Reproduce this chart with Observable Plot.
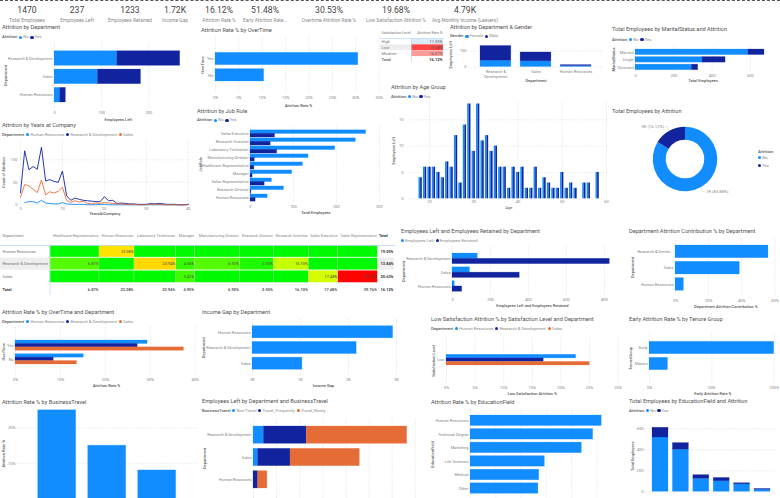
<!DOCTYPE html>
<html><head><meta charset="utf-8">
<style>
html,body{margin:0;padding:0;background:#fff;overflow:hidden;width:780px;height:498px}
#root{position:relative;width:780px;height:498px;overflow:hidden;font-family:Roboto,sans-serif}
.t{position:absolute;white-space:nowrap;transform:translateY(-50%);line-height:1}
.lg{position:absolute;display:flex;align-items:center;gap:1px;white-space:nowrap;transform:translateY(-50%);font-size:4.2px;color:#8a8a8a;line-height:1}
.lg b{color:#555;font-weight:500;margin-right:0.8px}
.lg i{display:inline-block;width:3.2px;height:3.2px;border-radius:50%}
.lg span{margin-right:0.8px}
</style>
<script src="https://cdn.jsdelivr.net/npm/d3@7"></script>
<script src="https://cdn.jsdelivr.net/npm/@observablehq/plot@0.6"></script>
</head><body><div id="root"></div>
<script>
// ---- data ----
const kpiValues = ["1470","237","1233","1.72K","16.12%","51.48%","30.53%","19.68%","4.79K"];
const kpiLabels = ["Total Employees","Employees Left","Employees Retained","Income Gap","Attrition Rate %","Early Attrition Rate...","Overtime Attrition Rate %","Low Satisfaction Attrition %","Avg Monthly Income (Leavers)"];
const departments = ["Research & Development","Sales","Human Resources"];
const deptNo = [133,92,12];
const deptYes = [133,91,12];
const overTime = ["Yes","No"];
const overTimeRate = [30.53,10.4];
const satLevels = ["High","Low","Medium"];
const satRates = [11.33,19.68,16.67];
const genderFemale = [40,36,6];
const genderMale = [93,56,6];
const marital = ["Married","Single","Divorced"];
const maritalNo = [589,350,294];
const maritalYes = [84,120,33];
const years = d3.range(0,41);
const yearsRD = [27,120,78,85,79,128,53,56,52,50,75,20,10,15,12,10,9,8,7,7,18,9,10,3,4,3,2,2,1,1,1,3,2,3,2,1,1,1,0,0,1];
const yearsSales = [17,45,42,35,27,55,22,29,26,30,39,10,5,9,6,8,3,2,4,3,5,4,3,2,2,1,1,1,0,0,0,1,1,1,0,0,0,0,0,0,0];
const yearsHR = [null,5,7,7,4,10,4,3,2,2,5,2,1,1,1,1,0,0,0,1,1,0,0,0,0,0,0,0,0,0,0,0,0,0,0,0,0,0,0,0,1];
const jobRoles = ["Sales Executive","Research Scientist","Laboratory Technician","Manufacturing Director","Healthcare Representative","Manager","Sales Representative","Research Director","Human Resources"];
const jobNo = [269,245,197,135,122,97,50,78,40];
const jobYes = [57,47,62,10,9,5,33,2,12];
const ages = d3.range(18,59);
const ageLeft = [4,6,6,6,5,4,7,6,12,3,14,18,9,18,11,12,9,10,6,6,2,6,5,6,2,2,6,2,4,3,2,2,5,2,3,2,0,3,3,0,5];
const attritionShare = [83.88,16.12];
const attritionLabels = ["1K (83.88%)","0K (16.12%)"];
const heatColumns = ["Healthcare Representative","Human Resources","Laboratory Technician","Manager","Manufacturing Director","Research Director","Research Scientist","Sales Executive","Sales Representative"];
const heatHR = [null,23.08,null,null,null,null,null,null,null];
const heatRD = [6.87,null,23.94,4.56,6.90,2.50,16.10,null,null];
const heatSales = [null,null,null,5.41,null,null,null,17.48,39.76];
const heatRowTotals = ["19.05%","13.84%","20.63%"];
const heatColTotals = ["6.87%","23.08%","23.94%","4.90%","6.90%","2.50%","16.10%","17.48%","39.76%"];
const retained = [828,354,51];
const contribution = [56.12,38.82,5.06];
const otHR = [29.4,15.2];
const otRD = [27.2,8.5];
const otSales = [37.5,13.7];
const incomeDepts = ["Human Resources","Research & Development","Sales"];
const incomeGap = [2930,2170,1040];
const lowSatHR = [22.67];
const lowSatRD = [17];
const lowSatSales = [25.05];
const tenure = ["Early","Mature"];
const tenureRate = [100,14.8];
const travelKinds = ["Travel_Frequently","Travel_Rarely","Non-Travel"];
const travelRate = [24.94,14.96,8.0];
const leftNonTravel = [9,4,0];
const leftFrequently = [37,28,4];
const leftRarely = [87,60,8];
const eduFields = ["Human Resources","Technical Degree","Marketing","Life Sciences","Medical","Other"];
const eduRate = [25.93,24.24,22.0,14.69,13.58,13.41];
const eduShort = ["Life","Medical","Marketing","Technical","Other","Human"];
const eduNo = [517,401,124,100,71,20];
const eduYes = [93,63,35,32,11,7];

// ---- style ----
const BLUE="#118DFF", NAVY="#12239E", ORANGE="#E66C37";
const TICK="#858585", FS=4, FONT='Roboto,sans-serif';
const halo={strokeWidth:0.7,strokeOpacity:0.3};
const root=document.getElementById("root");
function txt(s,x,y,size,color,weight,align){
  const d=document.createElement("div");d.className="t";d.textContent=s;
  d.style.left=x+"px";d.style.top=y+"px";d.style.fontSize=size+"px";d.style.color=color;
  if(weight)d.style.fontWeight=weight;
  if(align==="center"){d.style.transform="translate(-50%,-50%)";}
  root.appendChild(d);
}
function legend(x,y,label,items){
  const d=document.createElement("div");d.className="lg";d.style.left=x+"px";d.style.top=y+"px";
  d.innerHTML=(label?`<b>${label}</b>`:"")+items.map(([n,c])=>`<i style="background:${c}"></i><span>${n}</span>`).join("");
  root.appendChild(d);
}
const dom=(lo,hi,v0,p0,v1,p1)=>{const k=(v1-v0)/(p1-p0);return [v0+(lo-p0)*k,v0+(hi-p0)*k];};
function panel(f,o){
  const ml=70,mr=16,mt=16,mb=24;
  const svg=Plot.plot({
    width:f.r-f.l+ml+mr,height:f.b-f.t+mt+mb,
    marginLeft:ml,marginRight:mr,marginTop:mt,marginBottom:mb,
    style:{background:"transparent",overflow:"visible",maxWidth:"none",fontFamily:FONT,fontSize:FS+"px",position:"absolute",left:(f.l-ml)+"px",top:(f.t-mt)+"px"},
    x:o.x&&{axis:null,...o.x},y:o.y&&{axis:null,...o.y},color:o.color,marks:o.marks
  });
  root.appendChild(svg);
}
// band scale whose first band starts at pixel `top` and last ends at pixel `bottom`
function band(f,domain,top,bottom,gap,vertical){
  const n=domain.length,bw=(bottom-top-(n-1)*gap)/n;
  const ref=vertical?f.l-70:f.t-16;
  return {type:"band",domain,range:[top-ref,bottom-ref],paddingInner:gap/(bw+gap),paddingOuter:0,round:false,align:0.5};
}
const grid=(fn,ticks)=>fn(ticks,{stroke:"#c8c8c8",strokeOpacity:1,strokeWidth:0.5,strokeDasharray:"1,1.4"});
const xTicks=(t,fmt,pad=3)=>Plot.axisX(t,{tickSize:0,tickPadding:pad,fontSize:FS,color:TICK,label:null,tickFormat:fmt,anchor:"bottom"});
const yTicks=(t,fmt,pad=2)=>Plot.axisY(t,{tickSize:0,tickPadding:pad,fontSize:FS,color:TICK,label:null,tickFormat:fmt,anchor:"left"});
const xBandAxis=(fmt,pad=3)=>Plot.axisX({tickSize:0,tickPadding:pad,fontSize:FS,color:TICK,label:null,tickFormat:fmt,anchor:"bottom",lineHeight:1.15});
const yBandAxis=(pad=2)=>Plot.axisY({tickSize:0,tickPadding:pad,fontSize:FS,color:TICK,label:null,anchor:"left"});
const xTitle=(s,dy,w=500)=>Plot.text([s],{text:d=>d,frameAnchor:"bottom",lineAnchor:"middle",textAnchor:"middle",dy,fontSize:4,fill:"#555",fontWeight:w});
const yTitle=(s,dx)=>Plot.text([s],{text:d=>d,frameAnchor:"left",textAnchor:"middle",lineAnchor:"middle",rotate:-90,dx,fontSize:4,fill:"#555",fontWeight:500});
const pct=d=>d+"%";
const long=(names,...series)=>series.flatMap(([k,vals])=>vals.map((v,i)=>({c:names[i],s:k,v})));
const ynColor={domain:["No","Yes"],range:[BLUE,NAVY]};

// ---- header ----
const topLine=document.createElement("div");
topLine.style.cssText="position:absolute;left:0;top:0;width:780px;height:0;border-top:1px dashed #555";
root.appendChild(topLine);
const kpiX=[27,77,130,175,219,265,329,396,465];
kpiValues.forEach((v,i)=>txt(v,kpiX[i],10,8.6,"#444",400,"center"));
kpiLabels.forEach((v,i)=>txt(v,kpiX[i],20,4.9,"#8a8a8a",400,"center"));

const titles=[
["Attrition by Department",2,28],["Attrition Rate % by OverTime",201,31],["Attrition by Department & Gender",450,28],
["Total Employees by MaritalStatus and Attrition",612,30],["Attrition by Years at Company",2,126],["Attrition by Job Role",197,112],
["Attrition by Age Group",391,88],["Total Employees by Attrition",612,112],
["Employees Left and Employees Retained by Department",401,232],["Department Attrition Contribution % by Department",629,232],
["Attrition Rate % by OverTime and Department",2,313],["Income Gap by Department",202,313],
["Low Satisfaction Attrition % by Satisfaction Level and Department",431,320],["Early Attrition Rate % by Tenure Group",629,320],
["Attrition Rate % by BusinessTravel",2,403],["Employees Left by Department and BusinessTravel",202,402],
["Attrition Rate % by EducationField",431,403],["Total Employees by EducationField and Attrition",629,402]];
titles.forEach(([s,x,y])=>txt(s,x,y,5.6,"#505050",400));
const yn=[["No",BLUE],["Yes",NAVY]];
const dp=[["Human Resources",BLUE],["Research & Development",NAVY],["Sales",ORANGE]];
legend(2,37,"Attrition",yn);legend(450,36,"Gender",[["Female",BLUE],["Male",NAVY]]);
legend(612,39.5,"Attrition",yn);legend(2,134.5,"Department",dp);legend(197,120,"Attrition",yn);
legend(391,96.5,"Attrition",yn);legend(401,240.5,"",[["Employees Left",BLUE],["Employees Retained",NAVY]]);
legend(2,321.5,"Department",dp);legend(431,328.7,"Department",dp);
legend(202,410.7,"BusinessTravel",[["Non-Travel",BLUE],["Travel_Frequently",NAVY],["Travel_Rarely",ORANGE]]);
legend(629,410.7,"Attrition",yn);

// ---- Attrition by Department ----
{const f={l:53.5,r:181,t:42,b:108};
panel(f,{x:{domain:dom(f.l,f.r,0,53.5,200,148)},y:band(f,departments,50.7,102,3.7),color:ynColor,marks:[
 grid(Plot.gridX,[0,100,200]),Plot.barX(long(departments,["No",deptNo],["Yes",deptYes]),{x:"v",y:"c",fill:"s",stroke:"s",...halo}),
 xTicks([0,100,200]),yBandAxis(),xTitle("Employees Left",11),yTitle("Department",-49)]});}
// ---- Rate by OverTime ----
{const f={l:215,r:381,t:36,b:93};const t=[0,5,10,15,20,25,30,35];
panel(f,{x:{domain:dom(f.l,f.r,0,215,30,355.3)},y:band(f,overTime,52.3,81,4),marks:[
 grid(Plot.gridX,t),Plot.barX(overTime.map((c,i)=>({c,v:overTimeRate[i]})),{x:"v",y:"c",fill:BLUE,stroke:BLUE,...halo}),
 xTicks(t,pct),yBandAxis(),xTitle("Attrition Rate %",12),yTitle("OverTime",-13)]});}
// ---- Satisfaction table ----
{const f={l:380,r:443,t:37.5,b:61.5};const rows=[...satLevels,"Total"];
const cells=satLevels.map((c,i)=>({c,v:satRates[i]}));
panel(f,{x:{domain:[0,63]},y:band(f,rows,37.9,61.5,0.2),color:{type:"linear",domain:[11.33,16.67,19.68],range:["#dcebfb","#ff9a9a","#ff4444"]},marks:[
 Plot.barX([{a:0,b:31,c:"Low"}],{x1:"a",x2:"b",y:"c",fill:"#eeeeee"}),
 Plot.barX(cells,{x1:()=>31,x2:()=>63,y:"c",fill:"v"}),
 Plot.frame({anchor:"top",stroke:"#b9d8f6",strokeWidth:0.7}),Plot.ruleX([31],{stroke:"#b9d8f6",strokeWidth:0.6}),
 Plot.text(cells,{x:()=>62,y:"c",text:d=>d.v.toFixed(2)+"%",textAnchor:"end",fontSize:4,fill:"#555"}),
 Plot.text(rows,{x:()=>1,y:d=>d,text:d=>d,textAnchor:"start",fontSize:4.2,fill:d=>d==="Total"?"#222":"#777",fontWeight:d=>d==="Total"?700:400}),
 Plot.text(["16.12%"],{x:()=>62,y:()=>"Total",text:d=>d,textAnchor:"end",fontSize:4,fill:"#333",fontWeight:700}),
 Plot.text(["Satisfaction Level"],{x:()=>1,frameAnchor:"top",dy:-5.2,text:d=>d,textAnchor:"start",lineAnchor:"middle",fontSize:3.7,fill:"#777"}),
 Plot.text(["Attrition Rate %"],{x:()=>62,frameAnchor:"top",dy:-5.2,text:d=>d,textAnchor:"end",lineAnchor:"middle",fontSize:3.7,fill:"#777"})]});}
// ---- Gender ----
{const f={l:468,r:603,t:42,b:66.5};const wrap=d=>d==="Research & Development"?"Research &\nDevelopment":d;
panel(f,{x:band(f,departments,480,591,9.3,true),y:{domain:dom(f.b,f.t,0,66.5,100,50.7)},color:{domain:["Female","Male"],range:[BLUE,NAVY]},marks:[
 grid(Plot.gridY,[0,100]),Plot.barY(long(departments,["Female",genderFemale],["Male",genderMale]),{x:"c",y:"v",fill:"s",stroke:"s",...halo}),
 yTicks([0,100]),xBandAxis(wrap,3),xTitle("Department",13.5),yTitle("Employees Left",-18)]});}
// ---- Marital ----
{const f={l:635,r:770,t:46,b:72};const t=[0,200,400,600];
panel(f,{x:{domain:dom(f.l,f.r,0,635,600,750)},y:band(f,marital,49,69.7,2),color:ynColor,marks:[
 grid(Plot.gridX,t),Plot.barX(long(marital,["No",maritalNo],["Yes",maritalYes]),{x:"v",y:"c",fill:"s",stroke:"s",...halo}),
 xTicks(t,null,2),yBandAxis(),xTitle("Total Employees",8.5),yTitle("MaritalStatus",-22)]});}
// ---- Years ----
{const f={l:20,r:189,t:140,b:204.3};const t=[0,10,20,30,40];
const ln=(arr,c)=>Plot.line(years.map((y,i)=>({y,v:arr[i]})).filter(d=>d.v!=null),{x:"y",y:"v",stroke:c,strokeWidth:0.9,curve:"linear"});
panel(f,{x:{domain:dom(f.l,f.r,0,20,40,187.7)},y:{domain:dom(f.b,f.t,0,204.3,100,159.3)},marks:[
 grid(Plot.gridX,t),grid(Plot.gridY,[0,50,100]),ln(yearsHR,BLUE),ln(yearsRD,NAVY),ln(yearsSales,ORANGE),
 xTicks(t,null,2.5),yTicks([0,50,100],null,3),xTitle("YearsAtCompany",9),yTitle("Count of Attrition",-17)]});}
// ---- Job role ----
{const f={l:250.3,r:381,t:126,b:202};const t=[0,100,200,300];
const h=3.4;
panel(f,{x:{domain:dom(f.l,f.r,0,250.3,300,379.3)},y:band(f,jobRoles,129.8,201.2,0.8),marks:[
 grid(Plot.gridX,t),
 Plot.barX(jobRoles.map((c,i)=>({c,v:jobNo[i]})),{x:"v",y:"c",fill:BLUE,stroke:BLUE,...halo,insetBottom:h+0.1}),
 Plot.barX(jobRoles.map((c,i)=>({c,v:jobYes[i]})),{x:"v",y:"c",fill:NAVY,stroke:NAVY,...halo,insetTop:h+0.1}),
 xTicks(t,null,2.5),yBandAxis(),xTitle("Total Employees",10.5),yTitle("JobRole",-50)]});}
// ---- Age ----
{const f={l:409,r:608,t:102,b:198.3};const t=[20,30,40,50,60];
const half=0.37;
panel(f,{x:{domain:dom(f.l,f.r,20,429,60,606)},y:{domain:dom(f.b,f.t,0,198.3,15,119.3)},marks:[
 grid(Plot.gridX,t),grid(Plot.gridY,[0,5,10,15]),
 Plot.rectY(ages.map((a,i)=>({a,v:ageLeft[i]})),{x1:d=>d.a-half,x2:d=>d.a,y1:()=>0,y2:"v",fill:BLUE}),
 Plot.rectY(ages.map((a,i)=>({a,v:ageLeft[i]})),{x1:d=>d.a,x2:d=>d.a+half,y1:()=>0,y2:"v",fill:NAVY}),
 xTicks(t,null,1.5),yTicks([0,5,10,15],null,6),xTitle("Age",9.2,400),yTitle("Employees Left",-16)]});}
// ---- Donut ----
{const f={l:640,r:730,t:120,b:198};
const donut=()=>{
  const cx=(f.r-f.l)/2+70,cy=(f.b-f.t)/2+16,R=32.3,r=19.3;
  const g=d3.create("svg:g").attr("transform",`translate(${cx},${cy})`);
  const arcs=d3.pie().sort(null)(attritionShare);
  const arc=d3.arc().innerRadius(r).outerRadius(R);
  g.selectAll("path").data(arcs).join("path").attr("d",arc).attr("fill",(d,i)=>[BLUE,NAVY][i]);
  arcs.forEach((a,i)=>{
    const m=(a.startAngle+a.endAngle)/2,sx=Math.sin(m),cyy=-Math.cos(m);
    const p1=[sx*(R+0.6),cyy*(R+0.6)],p2=[sx*(R+5),cyy*(R+5)];
    const dir=sx>0?1:-1;const p3=[p2[0]+dir*2,p2[1]];
    g.append("polyline").attr("points",[p1,p2,p3].map(p=>p.join(",")).join(" ")).attr("fill","none").attr("stroke","#bbb").attr("stroke-width",0.4);
    g.append("text").attr("x",p3[0]+dir*1).attr("y",p3[1]).attr("dy","0.32em").attr("text-anchor",dir>0?"start":"end").attr("font-size",4.2).attr("fill","#888").text(attritionLabels[i]);
  });
  return g.node();
};
panel(f,{marks:[donut]});
txt("Attrition",758,151.5,4.2,"#555",500);
[["No",BLUE,157.5],["Yes",NAVY,165.5]].forEach(([n,c,y])=>{
  const d=document.createElement("div");d.className="lg";d.style.left="758px";d.style.top=y+"px";
  d.innerHTML=`<i style="background:${c}"></i><span>${n}</span>`;root.appendChild(d);});}
// ---- Heatmap ----
{const colW=[49.7,49.3,35,41.7,19,44.6,34,35,29.4,39.6,16.7];
const edges=d3.cumsum([0,...colW]);
const f={l:0,r:394,t:245,b:295};
const rowNames=["Human Resources","Research & Development","Sales"];
const mats=[heatHR,heatRD,heatSales];
const cells=mats.flatMap((m,r)=>m.map((v,i)=>({row:rowNames[r],v,a:edges[i+1],b:edges[i+2]})));
const allRows=["hdr",...rowNames,"Total"];
panel(f,{x:{domain:[0,394]},y:band(f,allRows,232.3,295,0.7),color:{type:"linear",domain:[0,21,40],range:["#00fa00","#ffff00","#ff0000"]},marks:[
 Plot.barX([{a:0,b:49.7,row:rowNames[1]},{a:377.3,b:394,row:rowNames[1]}],{x1:"a",x2:"b",y:"row",fill:"#eeeeee"}),
 Plot.barX(cells,{x1:"a",x2:"b",y:"row",fill:d=>d.v??0,stroke:"#fff",strokeOpacity:0.45,strokeWidth:0.4}),
 Plot.frame({anchor:"top",stroke:"#b9d8f6",strokeWidth:0.8}),Plot.ruleX([49.5],{stroke:"#b9d8f6",strokeWidth:0.7}),
 Plot.text(cells.filter(d=>d.v!=null),{x:d=>d.b-1,y:"row",text:d=>d.v.toFixed(2)+"%",textAnchor:"end",fontSize:3.9,fill:"#444"}),
 Plot.text(rowNames,{x:()=>2,y:d=>d,text:d=>d,textAnchor:"start",fontSize:4.1,fill:"#777"}),
 Plot.text(["Department"],{x:()=>2,y:()=>"hdr",dy:-2.6,text:d=>d,textAnchor:"start",fontSize:4,fill:"#777"}),
 Plot.text(heatColumns,{x:(d,i)=>edges[i+2]-1,y:()=>"hdr",dy:-2.6,text:d=>d,textAnchor:"end",fontSize:3.9,fill:"#888"}),
 Plot.text(["Total"],{x:()=>378.5,y:()=>"hdr",dy:-2.6,text:d=>d,textAnchor:"start",fontSize:3.9,fill:"#333",fontWeight:700}),
 Plot.text(["Total"],{x:()=>2,y:()=>"Total",text:d=>d,textAnchor:"start",fontSize:4,fill:"#333",fontWeight:700}),
 Plot.text(heatColTotals,{x:(d,i)=>edges[i+2]-1,y:()=>"Total",text:d=>d,textAnchor:"end",fontSize:3.9,fill:"#555",fontWeight:700}),
 Plot.text(heatRowTotals,{x:()=>393,y:(d,i)=>rowNames[i],text:d=>d,textAnchor:"end",fontSize:3.9,fill:"#333",fontWeight:700}),
 Plot.text(["16.12%"],{x:()=>393,y:()=>"Total",text:d=>d,textAnchor:"end",fontSize:3.9,fill:"#333",fontWeight:700})]});}
// ---- Left & Retained ----
{const f={l:452.3,r:612,t:246,b:296};const t=[0,200,400,600,800];const h=5.3;
panel(f,{x:{domain:dom(f.l,f.r,0,452.3,800,604.3)},y:band(f,departments,253,291.3,3.2),marks:[
 grid(Plot.gridX,t),
 Plot.barX(departments.map((c,i)=>({c,v:deptNo[i]})),{x:"v",y:"c",fill:BLUE,stroke:BLUE,...halo,insetBottom:h}),
 Plot.barX(departments.map((c,i)=>({c,v:retained[i]})),{x:"v",y:"c",fill:NAVY,stroke:NAVY,...halo,insetTop:h}),
 xTicks(t,null,2),yBandAxis(),xTitle("Employees Left and Employees Retained",9.5),yTitle("Department",-49)]});}
// ---- Contribution ----
{const f={l:675.3,r:776,t:238,b:296};const t=[0,20,40,60];
panel(f,{x:{domain:dom(f.l,f.r,0,675.3,60,774.7)},y:band(f,departments,245,290.3,3.6),marks:[
 grid(Plot.gridX,t),Plot.barX(departments.map((c,i)=>({c,v:contribution[i]})),{x:"v",y:"c",fill:BLUE,stroke:BLUE,...halo}),
 xTicks(t,pct,2.5),Plot.axisY({tickSize:0,tickPadding:2,fontSize:FS,color:TICK,label:null,anchor:"left",tickFormat:d=>d==="Research & Development"?"Research & Develo...":d}),
 xTitle("Department Attrition Contribution %",10.5),yTitle("Department",-43)]});}
// ---- OT & Dept ----
{const f={l:15,r:197,t:327,b:375.5};const t=[0,10,20,30,40];const bh=3.4;
const s=(arr,c,a,b)=>Plot.barX(overTime.map((k,i)=>({k,v:arr[i]})),{x:"v",y:"k",fill:c,stroke:c,...halo,insetTop:a,insetBottom:b});
panel(f,{x:{domain:dom(f.l,f.r,0,15,40,194.7)},y:band(f,overTime,340,364,3.4),marks:[
 grid(Plot.gridX,t),s(otHR,BLUE,0,2*bh),s(otRD,NAVY,bh,bh),s(otSales,ORANGE,2*bh,0),
 xTicks(t,pct,2),Plot.axisY({tickSize:0,tickPadding:2,fontSize:3.8,color:TICK,label:null,anchor:"left"}),xTitle("Attrition Rate %",9.5),yTitle("OverTime",-12)]});}
// ---- Income gap ----
{const f={l:252.3,r:394,t:319,b:375.5};const t=[0,1000,2000,3000];
panel(f,{x:{domain:dom(f.l,f.r,0,252.3,2000,348.3)},y:band(f,incomeDepts,325.7,369.3,3.6),marks:[
 grid(Plot.gridX,t),Plot.barX(incomeDepts.map((c,i)=>({c,v:incomeGap[i]})),{x:"v",y:"c",fill:BLUE,stroke:BLUE,...halo}),
 xTicks(t,d=>d/1000+"K",2),yBandAxis(),xTitle("Income Gap",9.5),yTitle("Department",-49)]});}
// ---- Low satisfaction ----
{const f={l:445.7,r:617.3,t:337,b:384};const t=[0,5,10,15,20,25,30];
const s=(arr,c,a,b)=>Plot.barX(["Low"].map((k,i)=>({k,v:arr[i]})),{x:"v",y:"k",fill:c,stroke:c,...halo,insetTop:a,insetBottom:b});
panel(f,{x:{domain:dom(f.l,f.r,0,445.7,30,617.3)},y:band(f,["Low"],354.3,365,0),marks:[
 grid(Plot.gridX,t),s(lowSatHR,BLUE,0,7.1),s(lowSatRD,NAVY,3.6,3.6),s(lowSatSales,ORANGE,7.1,0),
 xTicks(t,pct,2),yBandAxis(),xTitle("Low Satisfaction Attrition %",9),yTitle("Satisfaction Level",-12.5)]});}
// ---- Early ----
{const f={l:649.3,r:776,t:332,b:384};const t=[0,50,100];
panel(f,{x:{domain:dom(f.l,f.r,0,649.3,100,774)},y:band(f,tenure,341.3,369.7,3.6),marks:[
 grid(Plot.gridX,t),Plot.barX(tenure.map((c,i)=>({c,v:tenureRate[i]})),{x:"v",y:"c",fill:BLUE,stroke:BLUE,...halo}),
 xTicks(t,pct,2),yBandAxis(),xTitle("Early Attrition Rate %",9),yTitle("TenureGroup",-19)]});}
// ---- Business travel ----
{const f={l:16,r:198,t:408,b:498.3};
panel(f,{x:band(f,travelKinds,37.7,175.7,12,true),y:{domain:dom(f.b,f.t,0,498.3,20,427.3)},marks:[
 grid(Plot.gridY,[10,20]),Plot.barY(travelKinds.map((c,i)=>({c,v:travelRate[i]})),{x:"c",y:"v",fill:BLUE,stroke:BLUE,...halo}),
 yTicks([10,20],pct,1),yTitle("Attrition Rate %",-13)]});}
// ---- Left by travel ----
{const f={l:253.3,r:415.5,t:418,b:498};const t=[0,20,40,60,80,100,120,140];
panel(f,{x:{domain:dom(f.l,f.r,0,253.3,133,407)},y:band(f,departments,426,488,5),
 color:{domain:["Non-Travel","Travel_Frequently","Travel_Rarely"],range:[BLUE,NAVY,ORANGE]},marks:[
 grid(Plot.gridX,t),Plot.barX(long(departments,["Non-Travel",leftNonTravel],["Travel_Frequently",leftFrequently],["Travel_Rarely",leftRarely]),{x:"v",y:"c",fill:"s",stroke:"s",...halo}),
 yBandAxis(),yTitle("Department",-49)]});}
// ---- Education rate ----
{const f={l:470,r:610,t:410,b:498};const t=[0,5,10,15,20,25];
panel(f,{x:{domain:dom(f.l,f.r,0,470,25,596.5)},y:band(f,eduFields,415,493.3,3),marks:[
 grid(Plot.gridX,t),Plot.barX(eduFields.map((c,i)=>({c,v:eduRate[i]})),{x:"v",y:"c",fill:BLUE,stroke:BLUE,...halo}),
 yBandAxis(),yTitle("EducationField",-38)]});}
// ---- Education totals ----
{const f={l:644,r:776,t:420,b:491.3};const t=[0,200,400,600];
panel(f,{x:band(f,eduShort,652,770,4.4,true),y:{domain:dom(f.b,f.t,0,491.3,600,428.3)},color:ynColor,marks:[
 grid(Plot.gridY,t),Plot.barY(long(eduShort,["No",eduNo],["Yes",eduYes]),{x:"c",y:"v",fill:"s",stroke:"s",...halo}),
 yTicks(t,null,1),xBandAxis(null,2.5),yTitle("Total Employees",-12)]});}
</script></body></html>
